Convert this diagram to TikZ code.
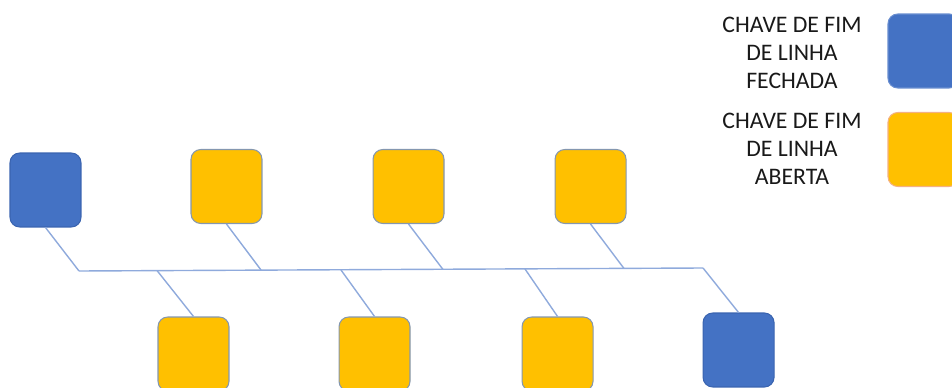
\documentclass[tikz,border=0pt]{standalone}
\usepackage{fontspec}
\setmainfont{Carlito}
\usepackage{tikz}
\usetikzlibrary{positioning, calc}
\definecolor{keyblue}{HTML}{4472C4}
\definecolor{keyblueline}{HTML}{3A64B0}
\definecolor{keyyellow}{HTML}{FFC000}
\definecolor{keygray}{HTML}{8497B0}
\definecolor{keyorange}{HTML}{F4B183}
\definecolor{wireblue}{HTML}{8FAADC}
\tikzset{
    base/.style = {rectangle, rounded corners=5.5pt, draw, minimum width=1.42cm, minimum height=1.48cm, line width=0.6pt, inner sep=0pt},
    closed/.style = {base, fill=keyblue, draw=keyblueline},
    open/.style = {base, fill=keyyellow, draw=keygray},
    legendtxt/.style = {align=center, text=black!90, font=\fontsize{13.5}{15.8}\selectfont},
    wire/.style = {draw=wireblue, line width=0.8pt}
}

\begin{document}
\begin{tikzpicture}[x=0.02cm, y=-0.02cm]
        \useasboundingbox (0,0) rectangle (952,388);
        \clip (0,0) rectangle (952,388);

        % Upper Row
        \node (t1) [closed] at (45.5,190) {};
        \node (t2) [open] at (226.5,186.5) {};
        \node (t3) [open, right=2.2cm of t2] {};
        \node (t4) [open, right=2.2cm of t3] {};

        % Lower Row
        \node (b1) [open] at (193.5,354) {};
        \node (b2) [open, right=2.18cm of b1] {};
        \node (b3) [open, right=2.22cm of b2] {};
        \node (b4) [closed, right=2.18cm of b3, yshift=0.08cm] {};

        % Bus Junctions
        \coordinate (busL) at (79,271);
        \coordinate (busR) at (703,268);
        \coordinate (j2) at (261,270);
        \coordinate (j3) at (443,269.5);
        \coordinate (j4) at (624,268.5);
        \coordinate (j5) at (157,270.5);
        \coordinate (j6) at (341,270);
        \coordinate (j7) at (525,269);

        % Legend
        \node (closedtxt) [legendtxt] at (792,53) {CHAVE DE FIM\\DE LINHA\\FECHADA};
        \node (opentxt) [legendtxt] at (792,149) {CHAVE DE FIM\\DE LINHA\\ABERTA};
        \node (closedkey) [closed, draw=keyblue!80!white] at (923.5,51) {};
        \node (openkey) [open, draw=keyorange] at (923.5,149.5) {};

        % Main Line
        \draw [wire] (busL) -- (busR);

        % Upper Branches
        \draw [wire] (t1.south) -- (busL);
        \draw [wire] (t2.south) -- (j2);
        \draw [wire] (t3.south) -- (j3);
        \draw [wire] (t4.south) -- (j4);

        % Lower Branches
        \draw [wire] (j5) -- (b1.north);
        \draw [wire] (j6) -- (b2.north);
        \draw [wire] (j7) -- (b3.north);
        \draw [wire] (busR) -- (b4.north);

    \end{tikzpicture}
\end{document}
